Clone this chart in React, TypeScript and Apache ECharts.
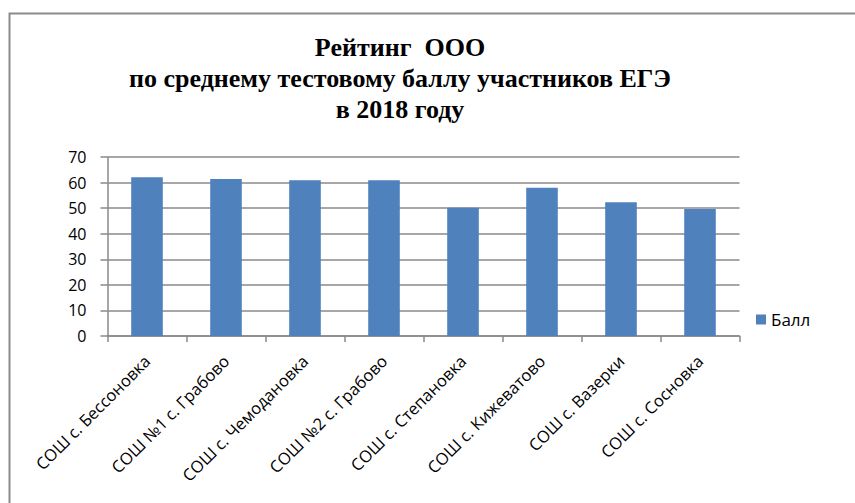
import React, { useEffect, useRef } from "react";
import * as echarts from "echarts";

const categories = [
  "СОШ с. Бессоновка",
  "СОШ №1 с. Грабово",
  "СОШ с. Чемодановка",
  "СОШ №2 с. Грабово",
  "СОШ с. Степановка",
  "СОШ с. Кижеватово",
  "СОШ с. Вазерки",
  "СОШ с. Сосновка",
];
const seriesName = "Балл";
const values = [62.1, 61.4, 60.9, 60.9, 50.2, 58.0, 52.3, 49.7];
const titleText = "Рейтинг  ООО\nпо среднему тестовому баллу участников ЕГЭ\nв 2018 году";

export default function App() {
  const ref = useRef<HTMLDivElement>(null);
  useEffect(() => {
    document.body.style.margin = "0";
    const chart = echarts.init(ref.current!, null, { renderer: "svg" });
    const labelFont = "Open Sans, Liberation Sans, sans-serif";
    chart.setOption({
      animation: false,
      backgroundColor: "#ffffff",
      title: {
        text: titleText,
        left: 395,
        top: 27,
        textAlign: "center",
        textStyle: {
          fontFamily: "Liberation Serif, Times New Roman, serif",
          fontWeight: "bold",
          fontSize: 26,
          lineHeight: 31,
          color: "#000",
        },
      },
      graphic: [
        {
          type: "rect",
          shape: { x: 9.5, y: 13.5, width: 900, height: 600 },
          style: { fill: "none", stroke: "#8c8c8c", lineWidth: 2 },
          silent: true,
        },
      ],
      legend: {
        data: [seriesName],
        left: 751,
        top: 306,
        icon: "rect",
        itemWidth: 10,
        itemHeight: 10,
        itemGap: 6,
        textStyle: { fontFamily: labelFont, fontSize: 17, color: "#000" },
      },
      grid: { left: 107.5, right: 115.5, top: 157, bottom: 167, containLabel: false },
      xAxis: {
        type: "category",
        data: categories,
        axisLine: { lineStyle: { color: "#8a8a8a", width: 1.5 } },
        axisTick: { show: true, length: 6, lineStyle: { color: "#8a8a8a", width: 1.5 } },
        axisLabel: {
          rotate: 45,
          interval: 0,
          margin: 22,
          fontFamily: labelFont,
          fontSize: 16.5,
          color: "#000",
        },
      },
      yAxis: {
        type: "value",
        min: 0,
        max: 70,
        interval: 10,
        axisLine: { show: true, lineStyle: { color: "#8a8a8a", width: 1.5 } },
        axisTick: { show: true, length: 7, lineStyle: { color: "#8a8a8a", width: 1.5 } },
        splitLine: { show: true, lineStyle: { color: "#8a8a8a", width: 1.5 } },
        axisLabel: {
          margin: 21,
          fontFamily: labelFont,
          fontSize: 16,
          color: "#000",
        },
      },
      series: [
        {
          name: seriesName,
          type: "bar",
          data: values,
          barWidth: "40%",
          itemStyle: { color: "#4f81bd" },
        },
      ],
    });
    return () => chart.dispose();
  }, []);
  return <div ref={ref} style={{ width: 855, height: 503 }} />;
}
